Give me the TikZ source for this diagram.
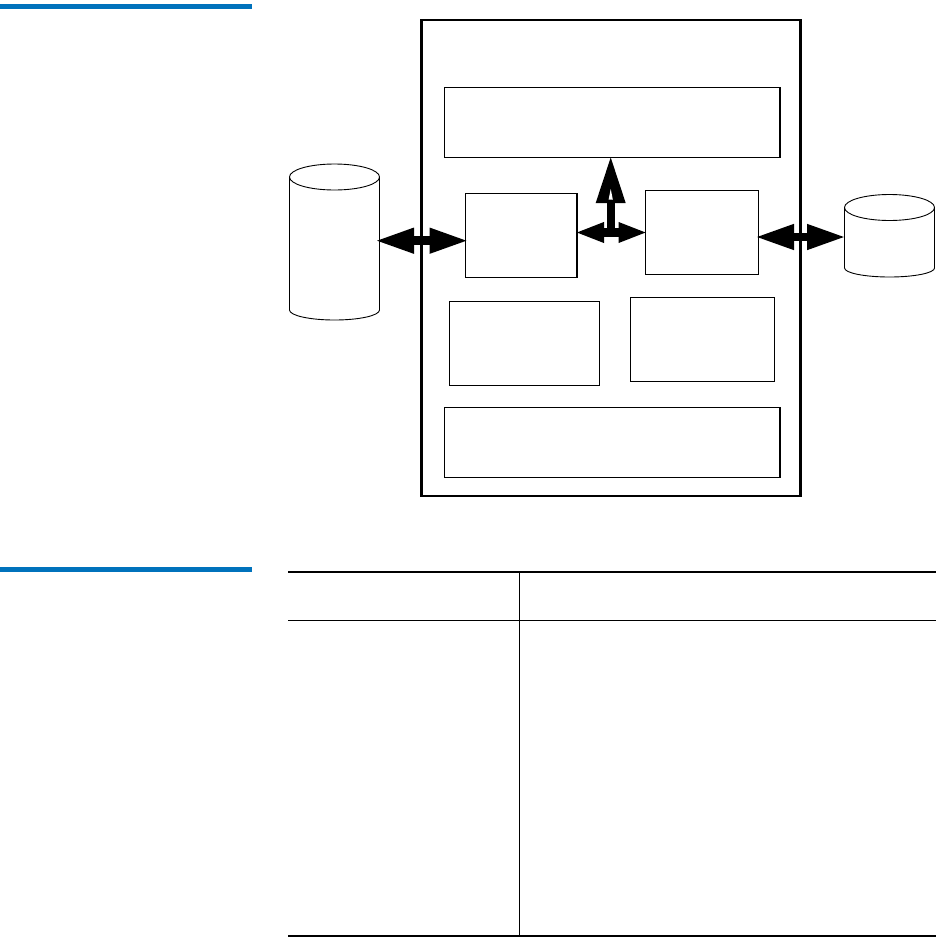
\documentclass[tikz,border=0pt]{standalone}
\usetikzlibrary{arrows.meta,calc}
\definecolor{barblue}{HTML}{0072BC}
\tikzset{
  block/.style={draw=black,line width=1.05pt,fill=none,rectangle,inner sep=0pt,outer sep=0pt,anchor=north west},
  outerblock/.style={block,line width=2.4pt},
  diskspace/.style={rectangle,inner sep=0pt,outer sep=0pt,anchor=north west},
  diskline/.style={draw=black,line width=0.9pt},
  rule/.style={draw=black,line width=1.3pt},
  bigdouble/.style={line width=8.5pt,{Triangle[length=39pt,width=23.5pt]}-{Triangle[length=39pt,width=23.5pt]}},
  smalldouble/.style={line width=9pt,{Triangle[length=29pt,width=18.5pt]}-{Triangle[length=29pt,width=18.5pt]}},
  upward/.style={line width=8pt,-{Triangle[length=47pt,width=27.5pt]}}
}
\begin{document}
\begin{tikzpicture}[x=1pt,y=-1pt]
\useasboundingbox (0,0) rectangle (936,937);
% blue section bars
\fill[barblue] (0,4) rectangle (252,9);
\fill[barblue] (0,567) rectangle (252,571.5);
% blocks
\node[outerblock,minimum width=379pt,minimum height=476pt] (outer) at (421.5,20) {};
\node[block,minimum width=335.5pt,minimum height=70pt] (top) at (444.5,87.5) {};
\node[block,minimum width=111.5pt,minimum height=84pt] (ml) at (465.5,193.5) {};
\node[block,minimum width=113pt,minimum height=84pt] (mr) at (645.5,190.5) {};
\node[block,minimum width=150pt,minimum height=84pt] (ll) at (449.5,301.5) {};
\node[block,minimum width=144pt,minimum height=84pt] (lr) at (630.5,297.5) {};
\node[block,minimum width=335.5pt,minimum height=70pt] (bot) at (444.5,407.5) {};
% disks
\node[diskspace,minimum width=90pt,minimum height=156pt] (dl) at (289.5,164) {};
\node[diskspace,minimum width=90pt,minimum height=83pt] (dr) at (844.5,194) {};
\draw[diskline] ($(dl.north)+(0,13)$) ellipse [x radius=45pt,y radius=13pt];
\draw[diskline] ($(dl.north west)+(0,13)$) -- ($(dl.south west)+(0,-10)$)
  arc[start angle=180,end angle=360,x radius=45pt,y radius=10pt] -- ($(dl.north east)+(0,13)$);
\draw[diskline] ($(dr.north)+(0,13.5)$) ellipse [x radius=45pt,y radius=13pt];
\draw[diskline] ($(dr.north west)+(0,13.5)$) -- ($(dr.south west)+(0,-9)$)
  arc[start angle=180,end angle=360,x radius=45pt,y radius=9pt] -- ($(dr.north east)+(0,13.5)$);
% connectors
\coordinate (la) at (0,240.7);
\coordinate (ma) at (0,232.5);
\coordinate (ra) at (0,237);
\coordinate (ua) at (610.7,0);
\draw[bigdouble] ($(dl.east |- la)+(-4.5,0)$) -- ($(ml.west |- la)+(3,0)$);
\draw[smalldouble] ($(ml.east |- ma)+(-2,0)$) -- ($(mr.west |- ma)+(2,0)$);
\draw[bigdouble] ($(mr.east |- ra)+(-3.5,0)$) -- ($(dr.west |- ra)+(1.5,0)$);
\draw[upward] (ua |- ma) -- ($(ua |- top.south)+(0,-1.5)$);
\fill[white] (610.7,189) -- (612.8,199.5) -- (608.6,199.5) -- cycle;
% table rules
\coordinate (tl) at (288,572);
\coordinate (tr) at (936,572);
\coordinate (ml1) at (288,620.5);
\coordinate (mr1) at (936,620.5);
\coordinate (bl) at (288,936);
\coordinate (br) at (936,936);
\coordinate (vt) at (519.5,572);
\coordinate (vb) at (519.5,936);
\draw[rule] (tl) -- (tr);
\draw[rule] (ml1) -- (mr1);
\draw[rule] (bl) -- (br);
\draw[rule] (vt) -- (vb);
\end{tikzpicture}
\end{document}
